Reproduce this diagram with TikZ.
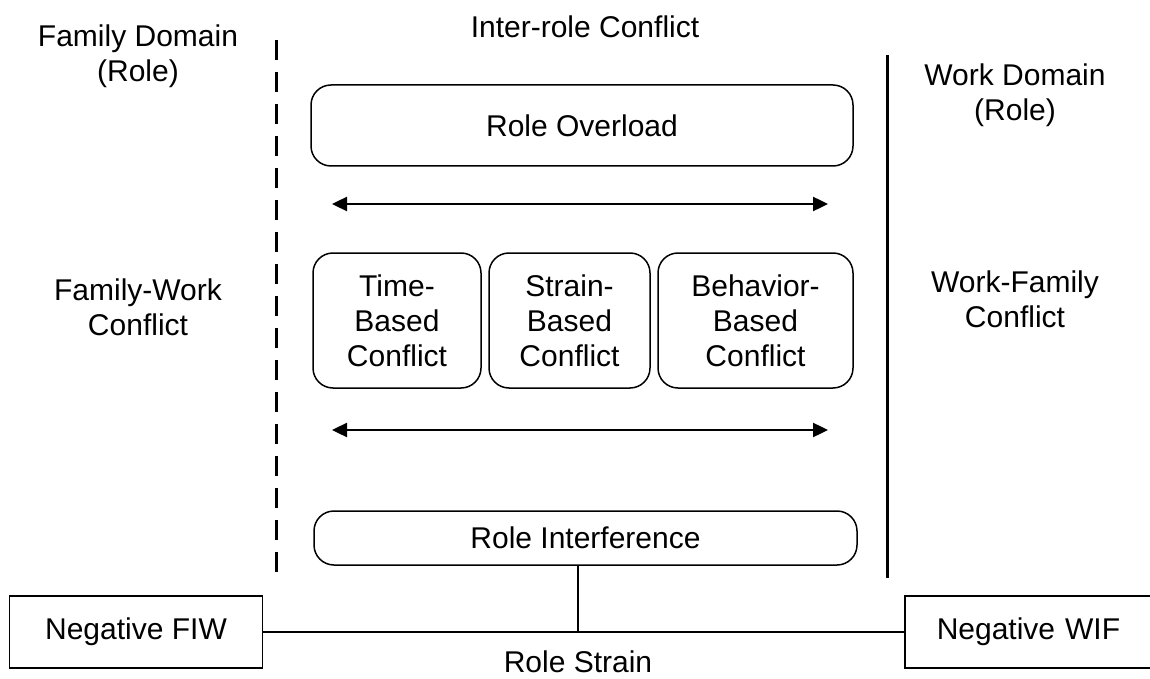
\documentclass[tikz,border=0pt]{standalone}
\usepackage{fontspec}
\setmainfont{Liberation Sans}
\usetikzlibrary{arrows.meta, positioning}

\begin{document}
\begin{tikzpicture}[x=0.5pt, y=-0.5pt, font=\fontsize{15}{17.5}\selectfont,
    roundbox/.style={rectangle, rounded corners=10pt, draw=black, line width=0.75pt, align=center, inner sep=0pt},
    plainbox/.style={rectangle, draw=black, line width=0.75pt, align=center, inner sep=0pt, minimum height=36pt},
    label/.style={align=center, inner sep=0pt},
    twoway/.style={{Triangle[length=7.5pt,width=7pt]}-{Triangle[length=7.5pt,width=7pt]}, line width=1.2pt}]

    \useasboundingbox (0,0) rectangle (1150,679);

    % Domain borders
    \draw[line width=1.5pt, dash pattern=on 10pt off 6pt] (276,40) -- (276,578);
    \draw[line width=1.5pt] (887,55) -- (887,578);

    % Side and top labels
    \node[label] (famdom) at (138,56) {Family Domain\\(Role)};
    \node[label] (interrole) at (585,27) {Inter-role Conflict};
    \node[label] (workdom) at (1015,95) {Work Domain\\(Role)};
    \node[label] (famwork) at (138,307) {Family-Work\\Conflict};
    \node[label] (workfam) at (1015,299) {Work-Family\\Conflict};

    % Conflict boxes
    \node[roundbox, minimum width=271pt, minimum height=40.5pt] (overload) at (582,125.5) {Role Overload};
    \node[roundbox, minimum width=84pt, minimum height=67.5pt] (timeb) at (397,320.5) {Time-\\Based\\Conflict};
    \node[roundbox, minimum width=80.5pt, minimum height=67.5pt] (strainb) at (569.5,320.5) {Strain-\\Based\\Conflict};
    \node[roundbox, minimum width=97.5pt, minimum height=67.5pt] (behavb) at (755.5,320.5) {Behavior-\\Based\\Conflict};
    \node[roundbox, minimum width=271.5pt, minimum height=27pt] (interf) at (585.5,538) {Role Interference};

    % Double arrows
    \coordinate (upL) at (332,204);
    \coordinate (upR) at (828,204);
    \coordinate (loL) at (332,430);
    \coordinate (loR) at (828,430);
    \draw[twoway] (upL) -- (upR);
    \draw[twoway] (loL) -- (loR);

    % Role strain
    \node[plainbox, minimum width=126.5pt] (negfiw) at (136,632) {Negative FIW};
    \node[plainbox, minimum width=131pt, anchor=west, text width=120pt, align=left, inner xsep=0pt] (negwif) at (904,632) {\hspace*{10.5pt}Negative WIF};
    \coordinate (strainjoin) at ([xshift=-3.75pt]interf.south |- negfiw.east);
    \draw[line width=0.6pt] (negfiw.east) -- (negwif.west);
    \draw[line width=0.6pt] ([xshift=-3.75pt]interf.south) -- (strainjoin);
    \node[label] (rolestrain) at (578,662) {Role Strain};

\end{tikzpicture}
\end{document}
